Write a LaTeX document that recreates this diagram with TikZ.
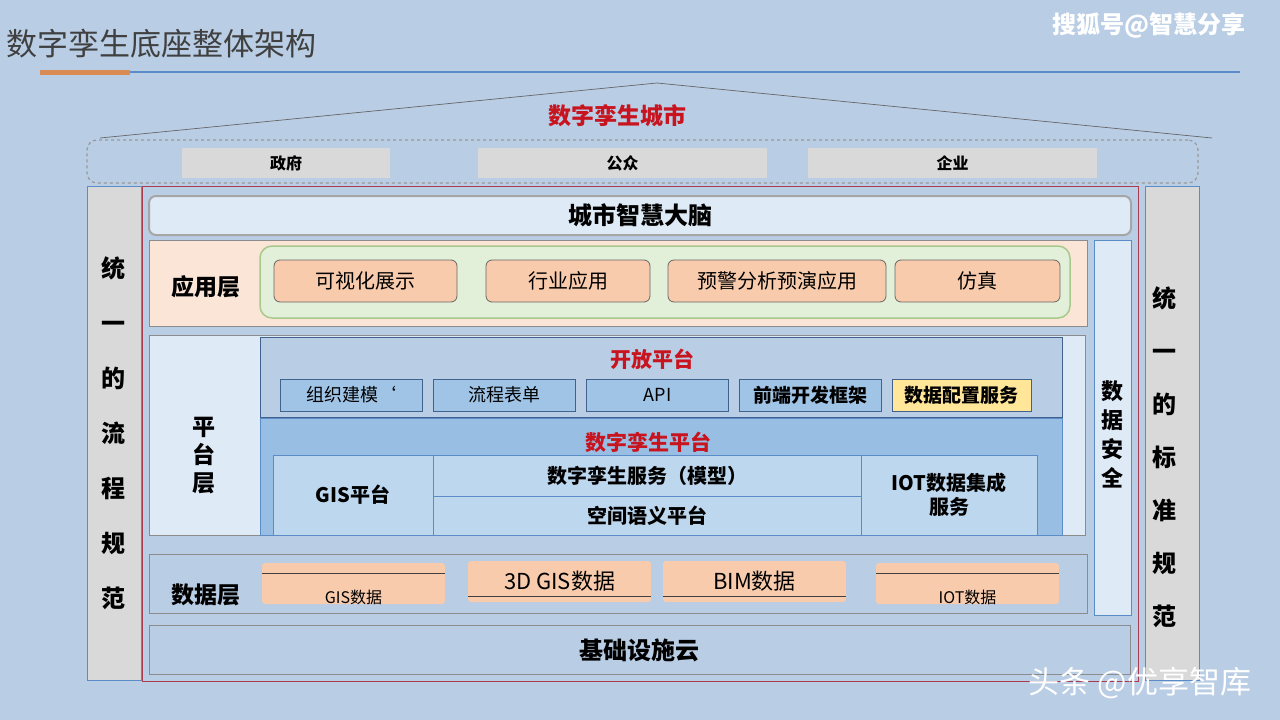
\documentclass[tikz,border=0pt]{standalone}
\usepackage{fontspec}
\setmainfont{Noto Sans CJK SC}
\usetikzlibrary{positioning}
\definecolor{bgblue}{RGB}{185,205,229}
\definecolor{paleblue}{RGB}{222,234,246}
\definecolor{midblue}{RGB}{160,196,230}
\definecolor{gisblue}{RGB}{189,215,238}
\definecolor{lineblue}{RGB}{91,140,200}
\definecolor{greybox}{RGB}{217,217,217}
\definecolor{peach}{RGB}{251,229,214}
\definecolor{salmon}{RGB}{248,203,173}
\definecolor{leaf}{RGB}{226,240,217}
\definecolor{leafline}{RGB}{169,200,140}
\definecolor{sand}{RGB}{255,230,153}
\definecolor{redtxt}{RGB}{200,20,30}
\definecolor{orangebar}{RGB}{217,140,85}
\definecolor{framered}{RGB}{170,60,80}
\tikzset{block/.style=
   {rectangle,
    draw=black!45,
    line width=0.8pt,
    text centered,
    inner sep=0pt}}
\tikzset{appbox/.style=
   {block,
    draw=black!60,
    fill=salmon,
    rounded corners=6pt,
    minimum height=42pt,
    font=\fontsize{20}{24}\selectfont}}
\tikzset{openbox/.style=
   {block,
    draw=black!30!lineblue,
    fill=midblue,
    minimum width=142pt,
    minimum height=32pt,
    font=\fontsize{18}{22}\selectfont}}
\tikzset{dtbox/.style=
   {block,
    draw=lineblue,
    fill=gisblue,
    font=\fontsize{20}{24}\selectfont\bfseries}}
\tikzset{databox/.style=
   {rectangle,
    fill=salmon,
    rounded corners=3pt,
    minimum width=183pt,
    minimum height=41pt,
    inner sep=0pt}}
\tikzset{layerlbl/.style={font=\fontsize{23}{26}\selectfont\bfseries}}
\tikzset{stdcol/.style=
   {block,
    draw=lineblue,
    fill=greybox,
    minimum width=54pt,
    minimum height=494pt}}

\begin{document}
\begin{tikzpicture}[x=1pt,y=-1pt]

    % Canvas
    \fill[bgblue] (0,0) rectangle (1280,720);
    \useasboundingbox (0,0) rectangle (1280,720);

    % Header
    \node [anchor=west, text=black!75, font=\fontsize{31}{34}\selectfont] (title) at (3,44) {数字孪生底座整体架构};
    \fill [orangebar] (40,70) rectangle (130,75);
    \coordinate (ruleL) at (130,72);
    \coordinate (ruleR) at (1240,72);
    \draw [lineblue, line width=1.5pt] (ruleL) -- (ruleR);
    \node [text=white, font=\fontsize{24}{28}\selectfont\bfseries] (mark1) at (1149,26) {搜狐号@智慧分享};

    % Roof and users
    \coordinate (roofL) at (100,138);
    \coordinate (roofT) at (657,83);
    \coordinate (roofR) at (1212,138);
    \draw [black!60, line width=0.7pt] (roofL) -- (roofT) -- (roofR);
    \node [text=redtxt, font=\fontsize{23}{26}\selectfont\bfseries] (city) at (617,116) {数字孪生城市};
    \node [block, dashed, draw=black!40, line width=1.2pt, rounded corners=10pt,
           minimum width=1111pt, minimum height=43pt] (users) at (642.5,161.5) {};
    \node [block, draw=none, fill=greybox, minimum width=208pt, minimum height=30pt,
           font=\fontsize{16}{18}\selectfont\bfseries] (gov) at (286,163) {政府};
    \node [block, draw=none, fill=greybox, minimum width=289pt, minimum height=30pt,
           font=\fontsize{16}{18}\selectfont\bfseries] (public) at (622.5,163) {公众};
    \node [block, draw=none, fill=greybox, minimum width=289pt, minimum height=30pt,
           font=\fontsize{16}{18}\selectfont\bfseries] (firm) at (952.5,163) {企业};

    % Side columns and frame
    \node [stdcol] (flowstd) at (114,433) {};
    \node [font=\fontsize{24}{55}\selectfont\bfseries, align=center] (flowtxt) at (113,433)
          {统\\一\\的\\流\\程\\规\\范};
    \node [stdcol] (normstd) at (1172.5,433) {};
    \node [font=\fontsize{24}{53}\selectfont\bfseries, align=center] (normtxt) at (1164,457)
          {统\\一\\的\\标\\准\\规\\范};
    \node [block, draw=framered, minimum width=996pt, minimum height=495pt] (frame) at (640,433.5) {};

    % City brain
    \node [block, draw=black!35, line width=2pt, fill=paleblue, rounded corners=7pt,
           minimum width=982pt, minimum height=39pt,
           font=\fontsize{24}{28}\selectfont\bfseries] (brain) at (640,215.5) {城市智慧大脑};

    % Application layer
    \node [block, fill=peach, minimum width=938pt, minimum height=86pt] (applayer) at (618,283) {};
    \node [layerlbl] (applbl) at (206,287) {应用层};
    \node [block, draw=leafline, line width=1.5pt, fill=leaf, rounded corners=12pt,
           minimum width=810pt, minimum height=72pt] (appgroup) at (665,282) {};
    \node [appbox, minimum width=183pt] (visual) at (365.5,281) {可视化展示};
    \node [appbox, minimum width=164pt] (industry) at (568,281) {行业应用};
    \node [appbox, minimum width=218pt] (warning) at (777,281) {预警分析预演应用};
    \node [appbox, minimum width=165pt] (simul) at (977.5,281) {仿真};

    % Data security
    \node [block, draw=lineblue, fill=paleblue, minimum width=37pt, minimum height=375pt] (security) at (1112.5,427.5) {};
    \node [font=\fontsize{22}{29}\selectfont\bfseries, align=center] (sectxt) at (1112,434) {数\\据\\安\\全};

    % Platform layer
    \node [block, fill=paleblue, minimum width=936pt, minimum height=200pt] (platlayer) at (617,435) {};
    \node [font=\fontsize{23}{28}\selectfont\bfseries, align=center] (platlbl) at (204,456) {平\\台\\层};
    \node [block, draw=black!30!lineblue, fill=bgblue, minimum width=802pt, minimum height=80pt] (openplat) at (661,377) {};
    \node [text=redtxt, font=\fontsize{21}{24}\selectfont\bfseries] (opentxt) at (652,359) {开放平台};
    \node [openbox] (orgmodel) at (351.5,395) {组织建模\symbol{96}};
    \node [openbox, right of=orgmodel, node distance=153pt] (flowform) {流程表单};
    \node [openbox, right of=flowform, node distance=153pt] (api) {API};
    \node [openbox, right of=api, node distance=153pt, font=\fontsize{19}{22}\selectfont\bfseries] (frontend) {前端开发框架};
    \node [openbox, right of=frontend, node distance=151pt, fill=sand, minimum width=139pt,
           font=\fontsize{19}{22}\selectfont\bfseries] (dataconf) {数据配置服务};
    \node [block, draw=lineblue, fill=midblue!90!lineblue, minimum width=802pt, minimum height=117pt] (dtplat) at (661,476.5) {};
    \node [text=redtxt, font=\fontsize{21}{24}\selectfont\bfseries] (dttxt) at (648,442) {数字孪生平台};
    \node [dtbox, minimum width=160pt, minimum height=80pt] (gisplat) at (353,495) {GIS平台};
    \node [dtbox, minimum width=428pt, minimum height=41pt] (dtsvc) at (647,475.5) {数字孪生服务（模型）};
    \node [dtbox, minimum width=428pt, minimum height=39pt] (spsem) at (647,515.5) {空间语义平台};
    \node [dtbox, minimum width=176pt, minimum height=80pt, align=center] (iotint) at (949,495) {IOT数据集成\\服务};

    % Data layer
    \node [block, fill=bgblue, minimum width=938pt, minimum height=59pt] (datalayer) at (618,583.5) {};
    \node [layerlbl] (datalbl) at (206,595) {数据层};
    \node [databox] (gisdata) at (353.5,583.5) {};
    \node [font=\fontsize{16}{18}\selectfont, anchor=south, yshift=-4pt] (gisdatatxt) at (gisdata.south) {GIS数据};
    \node [databox, font=\fontsize{22}{26}\selectfont] (gis3d) at (559.5,581.5) {3D GIS数据};
    \node [databox, font=\fontsize{22}{26}\selectfont] (bimdata) at (754.5,581.5) {BIM数据};
    \node [databox] (iotdata) at (967.5,583.5) {};
    \node [font=\fontsize{16}{18}\selectfont, anchor=south, yshift=-4pt] (iotdatatxt) at (iotdata.south) {IOT数据};
    \draw [black!75, line width=0.6pt] ([yshift=-10pt]gisdata.north west) -- ([yshift=-10pt]gisdata.north east);
    \draw [black!75, line width=0.6pt] ([yshift=6pt]gis3d.south west) -- ([yshift=6pt]gis3d.south east);
    \draw [black!75, line width=0.6pt] ([yshift=6pt]bimdata.south west) -- ([yshift=6pt]bimdata.south east);
    \draw [black!75, line width=0.6pt] ([yshift=-10pt]iotdata.north west) -- ([yshift=-10pt]iotdata.north east);

    % Infrastructure
    \node [block, fill=bgblue, minimum width=981pt, minimum height=49pt,
           font=\fontsize{24}{28}\selectfont\bfseries] (infra) at (639.5,650) {基础设施云};

    \node [text=white, font=\fontsize{31}{34}\selectfont] (mark2) at (1140,683) {头条 @优享智库};

\end{tikzpicture}
\end{document}
